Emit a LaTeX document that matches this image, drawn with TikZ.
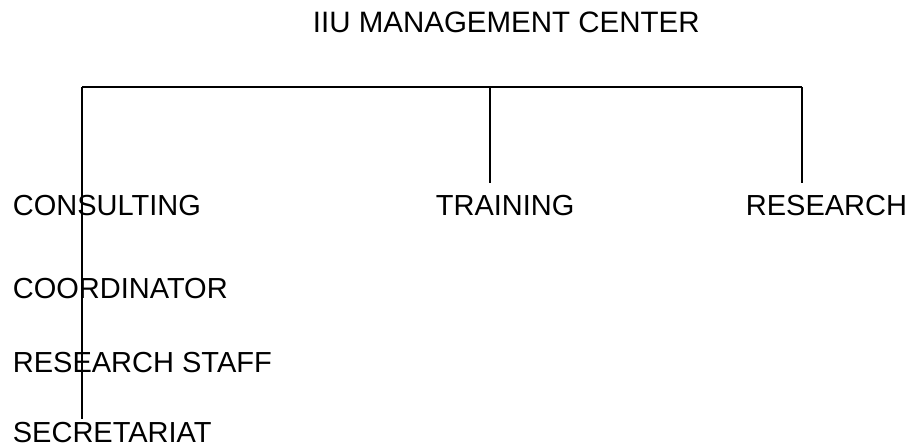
\documentclass[tikz,border=0pt]{standalone}
\usepackage{fontspec}
\setmainfont{Liberation Sans}
\begin{document}
\begin{tikzpicture}[x=1bp,y=-1bp,
	lbl/.style={inner sep=0pt, anchor=base west, font=\fontsize{29bp}{34bp}\selectfont},
	every path/.style={line width=1.8bp}]
	\useasboundingbox (0,0) rectangle (913,447);
			    \node[lbl, font=\fontsize{29.5bp}{34bp}\selectfont] (HD) at (312,33) {IIU MANAGEMENT CENTER};
		    	\node[lbl] (CO) at (12,216) {CONSULTING};
		    	\node[lbl] (TR) at (435,216) {TRAINING};
		    	\node[lbl] (RE) at (745,216) {RESEARCH};
		    	\node[lbl] (CD) at (12,299) {COORDINATOR};
		    	\node[lbl] (RS) at (12,373) {RESEARCH STAFF};
		    	\node[lbl] (SE) at (12,442) {SECRETARIAT};
		    	
		    	\coordinate (BL) at (82,87);
		    	\coordinate (BM) at (490,87);
		    	\coordinate (BR) at (802,87);
		    	\coordinate (EL) at (82,419);
		    	\coordinate (EM) at (490,183);
		    	\coordinate (ER) at (802,183);
		    	
		    	\draw (BL)--(BR);
		    	\draw (BL)--(EL);
		    	\draw (BM)--(EM);
		    	\draw (BR)--(ER);
		    \end{tikzpicture}
\end{document}
